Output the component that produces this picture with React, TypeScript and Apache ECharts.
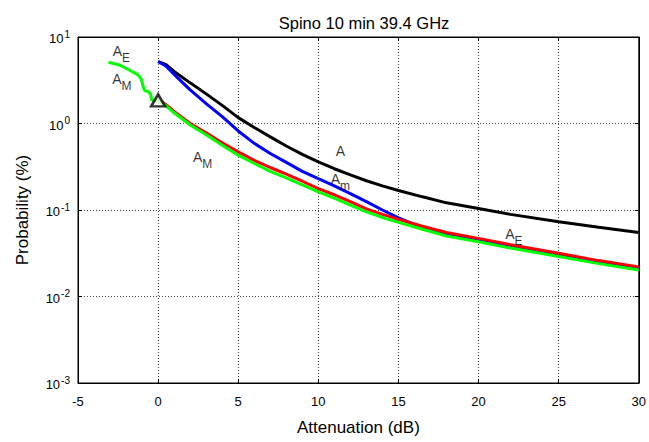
import React, { useEffect, useRef } from "react";
import * as echarts from "echarts";

const titleText = "Spino 10 min 39.4 GHz";
const xName = "Attenuation (dB)";
const yName = "Probability (%)";

const attX = [0, 0.5, 1, 2, 3, 4, 5, 6, 7, 8, 9, 10, 11, 12, 13, 14, 15, 16.5, 18, 20, 22, 25, 27.5, 30];
const curveA = [5.2, 4.8, 4.0, 2.95, 2.2, 1.62, 1.17, 0.9, 0.7, 0.55, 0.44, 0.36, 0.3, 0.255, 0.218, 0.19, 0.168, 0.142, 0.121, 0.104, 0.089, 0.073, 0.063, 0.055];
const curveAm = [5.2, 4.6, 3.7, 2.45, 1.7, 1.2, 0.82, 0.59, 0.45, 0.355, 0.28, 0.23, 0.19, 0.155, 0.125, 0.1, 0.081, 0.0625, 0.053, 0.045, 0.0375, 0.03, 0.025, 0.021];
const curveAE = [1.9, 1.65, 1.38, 1.0, 0.78, 0.6, 0.47, 0.375, 0.31, 0.26, 0.215, 0.177, 0.15, 0.125, 0.103, 0.089, 0.078, 0.065, 0.055, 0.047, 0.0397, 0.0316, 0.026, 0.022];
const curveAM = [1.85, 1.6, 1.33, 0.96, 0.74, 0.56, 0.43, 0.345, 0.28, 0.235, 0.195, 0.162, 0.137, 0.114, 0.095, 0.082, 0.072, 0.06, 0.05, 0.043, 0.0363, 0.029, 0.024, 0.0202];
const greenLeadX = [-3.1, -2.4, -1.8, -1.25, -1.05, -0.93, -0.83, -0.62, -0.47, -0.41, -0.2];
const greenLeadY = [5.1, 4.75, 4.15, 3.65, 3.25, 2.65, 2.4, 2.33, 2.2, 1.9, 1.8];

const markerPoint = [0, 1.85];

// annotation: [x, y, main, subscript]
const notes: [number, number, string, string][] = [
  [-2.29, 6.71, "A", "E"],
  [-2.26, 3.18, "A", "M"],
  [2.78, 0.399, "A", "M"],
  [11.38, 0.469, "A", ""],
  [11.38, 0.222, "A", "m"],
  [22.2, 0.0514, "A", "E"],
];

const FONT = "Liberation Sans, Arial, sans-serif";

export default function App() {
  const ref = useRef<HTMLDivElement>(null);
  useEffect(() => {
    if (!ref.current) return;
    const chart = echarts.init(ref.current, undefined, { renderer: "svg" });
    const zip = (xs: number[], ys: number[]) => xs.map((x, i) => [x, ys[i]]);
    const gridStyle = { color: "#444", width: 1, type: [1, 2] as any };
    const lineSeries = (name: string, data: number[][], color: string, z: number) => ({
      name,
      type: "line",
      data,
      showSymbol: false,
      symbol: "none",
      lineStyle: { color, width: 3 },
      z,
    });
    const axisLine = { show: true, onZero: false, lineStyle: { color: "#000", width: 1 } };
    const axisTick = { show: true, inside: true, length: 4, lineStyle: { color: "#000" } };
    chart.setOption({
      animation: false,
      textStyle: { fontFamily: FONT },
      title: {
        text: titleText,
        left: 359,
        textAlign: "center",
        top: 9,
        textStyle: { fontSize: 16.5, fontWeight: "normal", color: "#000", fontFamily: FONT },
      },
      grid: {
        left: 78,
        right: 9,
        top: 37,
        bottom: 59,
        show: true,
        borderColor: "#000",
        borderWidth: 1,
        backgroundColor: "#fff",
      },
      xAxis: [
        {
          type: "value",
          min: -5,
          max: 30,
          interval: 5,
          name: xName,
          nameLocation: "middle",
          nameGap: 36,
          nameTextStyle: { fontSize: 17, color: "#000", fontFamily: FONT },
          axisLine,
          axisTick,
          axisLabel: { fontSize: 13, color: "#000", margin: 12, fontFamily: FONT },
          splitLine: { show: true, lineStyle: gridStyle },
        },
        {
          type: "value",
          position: "top",
          min: -5,
          max: 30,
          interval: 5,
          axisLine,
          axisTick,
          axisLabel: { show: false },
          splitLine: { show: false },
        },
      ],
      yAxis: [
        {
          type: "log",
          logBase: 10,
          min: 0.001,
          max: 10,
          name: yName,
          nameLocation: "middle",
          nameGap: 47,
          nameTextStyle: { fontSize: 17, color: "#000", fontFamily: FONT },
          axisLine,
          axisTick,
          minorTick: { show: false },
          axisLabel: {
            margin: 8,
            color: "#000",
            formatter: (v: number) => {
              const e = Math.round(Math.log10(v));
              return "{b|10}{s|" + e + "}";
            },
            rich: {
              b: { fontSize: 13, color: "#000", fontFamily: FONT, verticalAlign: "bottom", lineHeight: 16 },
              s: { fontSize: 10, color: "#000", fontFamily: FONT, verticalAlign: "top", lineHeight: 10, padding: [0, 0, 9, 1] },
            },
          },
          splitLine: { show: true, lineStyle: gridStyle },
        },
        {
          type: "log",
          logBase: 10,
          min: 0.001,
          max: 10,
          position: "right",
          axisLine,
          axisTick,
          axisLabel: { show: false },
          splitLine: { show: false },
        },
      ],
      series: [
        lineSeries("A", zip(attX, curveA), "#000000", 2),
        lineSeries("Am", zip(attX, curveAm), "#0000ff", 3),
        lineSeries("AE", zip(attX, curveAE), "#ff0000", 4),
        lineSeries("AM", zip(greenLeadX, greenLeadY).concat(zip(attX, curveAM)), "#00ff00", 5),
        {
          type: "scatter",
          data: [markerPoint],
          symbol: "triangle",
          symbolSize: [14, 12],
          itemStyle: { color: "#fff", borderColor: "#000", borderWidth: 2.5 },
          z: 10,
        },
        {
          type: "scatter",
          symbolSize: 0,
          z: 11,
          itemStyle: { color: "#000" },
          data: notes.map((n) => ({ value: [n[0], n[1]], main: n[2], sub: n[3] })),
          label: {
            show: true,
            position: "inside",
            color: "#000",
            textBorderWidth: 0,
            textBorderColor: "transparent",
            formatter: (p: any) => {
              const d = p.data;
              return "{a|" + d.main + "}" + (d.sub ? "{s|" + d.sub + "}" : "");
            },
            rich: {
              a: { fontSize: 14, color: "#000", fontFamily: FONT, verticalAlign: "top", lineHeight: 16, textBorderWidth: 0 },
              s: { fontSize: 12, color: "#000", fontFamily: FONT, verticalAlign: "top", lineHeight: 13, padding: [8, 0, 0, 0], textBorderWidth: 0 },
            },
          },
        },
      ],
    });
    return () => chart.dispose();
  }, []);
  return (
    <div
      ref={ref}
      style={{ position: "fixed", left: 0, top: 0, width: 649, height: 442, background: "#fff" }}
    />
  );
}
